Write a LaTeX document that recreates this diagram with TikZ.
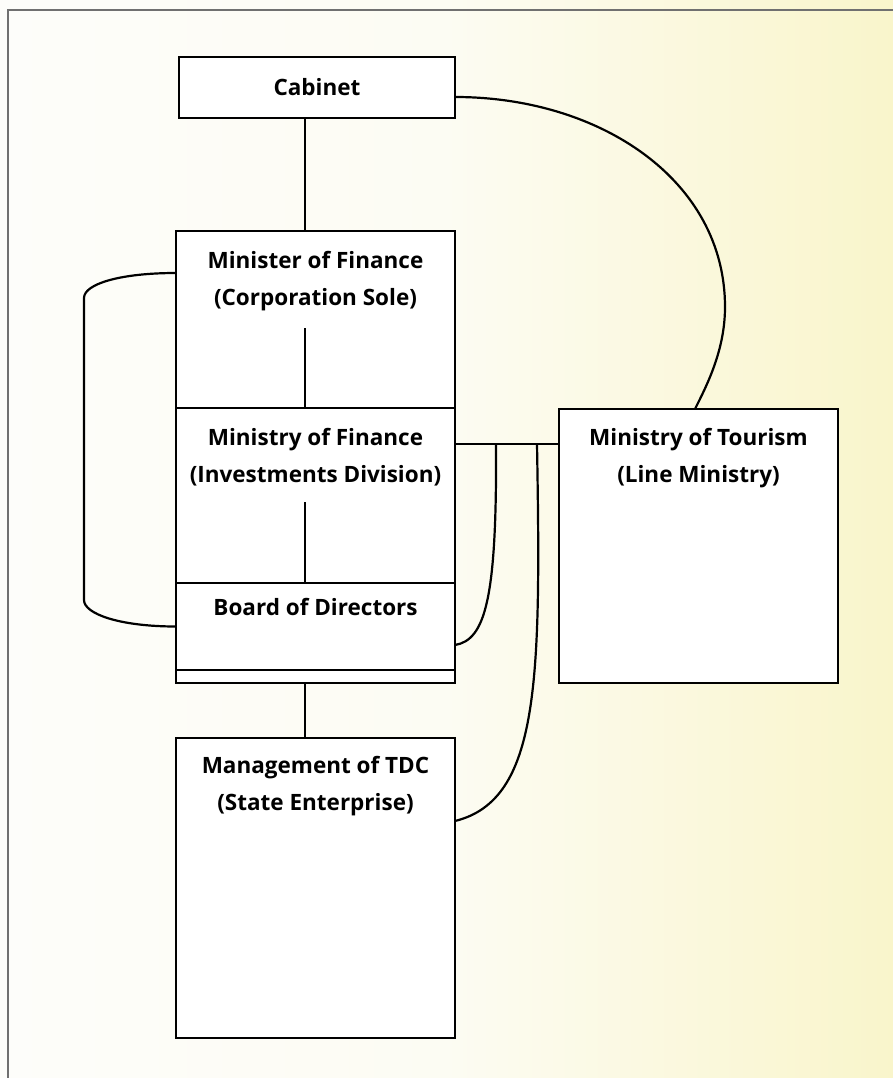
\documentclass[tikz,border=0pt]{standalone}
\usepackage{fontspec}
\setsansfont{Open Sans}
\usetikzlibrary{positioning}
\definecolor{paperWhite}{HTML}{FDFDFA}
\definecolor{paperYellow}{HTML}{F9F5CB}
\definecolor{frameGray}{HTML}{707070}

\begin{document}
\begin{tikzpicture}[
    x=1pt, y=-1pt,
    every node/.style={font=\sffamily\bfseries\fontsize{22.5}{37}\selectfont},
    box/.style={draw, fill=white, line width=2.6pt, minimum width=279pt, inner sep=0pt, outer sep=0pt},
    caption/.style={align=center, inner sep=0pt},
    link/.style={line width=2.2pt}
]
    \useasboundingbox (0,0) rectangle (893,1078);
    \shade[left color=paperWhite, right color=paperYellow, middle color=paperWhite!85!paperYellow] (0,0) rectangle (893,1078);
    \draw[frameGray, line width=1.4pt] (893,10) -- (8,10) -- (8,1078);

    % Boxes
    \node[box, minimum width=276pt, minimum height=61pt] (cab) at (317,87.5) {Cabinet};
    \node[box, minimum height=177pt] (mof) at (315.5,319.5) {};
    \node[box, minimum height=175pt, below=0pt of mof] (mofin) {};
    \node[box, minimum height=87pt, below=0pt of mofin] (board) {};
    \node[box, minimum height=13pt, below=0pt of board] (strip) {};
    \node[box, minimum height=300pt, below=55pt of strip] (mgmt) {};
    \node[box, minimum height=274pt] (tour) at (698.5,546) {};

    \node[caption, below=20pt of mof.north] (mofT) {Minister of Finance\\(Corporation Sole)};
    \node[caption, below=20pt of mofin.north] (mofinT) {Ministry of Finance\\(Investments Division)};
    \node[caption, below=15pt of board.north] (boardT) {Board of Directors};
    \node[caption, below=18pt of mgmt.north] (mgmtT) {Management of TDC\\(State Enterprise)};
    \node[caption, below=19pt of tour.north] (tourT) {Ministry of Tourism\\(Line Ministry)};

    \coordinate (spine) at (305,0);
    \draw[link] (spine |- cab.south) -- (spine |- mof.north);
    \draw[link] ([yshift=-17pt]mofT.south -| spine) -- (spine |- mof.south);
    \draw[link] ([yshift=-16pt]mofinT.south -| spine) -- (spine |- mofin.south);
    \draw[link] (spine |- strip.south) -- (spine |- mgmt.north);

    \draw[link] ([yshift=46.5pt]mof.west) .. controls +(-56,0) and +(0,-14) .. ++(-92,25)
        -- ++(0,302) .. controls +(0,14) and +(-56,0) .. (board.west);
    \draw[link] ([yshift=-9.5pt]cab.east) .. controls +(145,0) and +(0,-127) .. ++(270,210)
        .. controls +(0,43) and +(12,-24) .. ([xshift=-3.5pt]tour.north);

    \draw[link] ([yshift=51.5pt]mofin.east) coordinate (hub) -- (hub -| tour.west);
    \draw[link] ([xshift=41pt]hub) .. controls +(1,156) and +(30,-5) .. ([yshift=-18.5pt]board.east);
    \draw[link] ([xshift=82pt]hub) .. controls +(4,236) and +(85,-21) .. ([yshift=67pt]mgmt.east);
\end{tikzpicture}
\end{document}
